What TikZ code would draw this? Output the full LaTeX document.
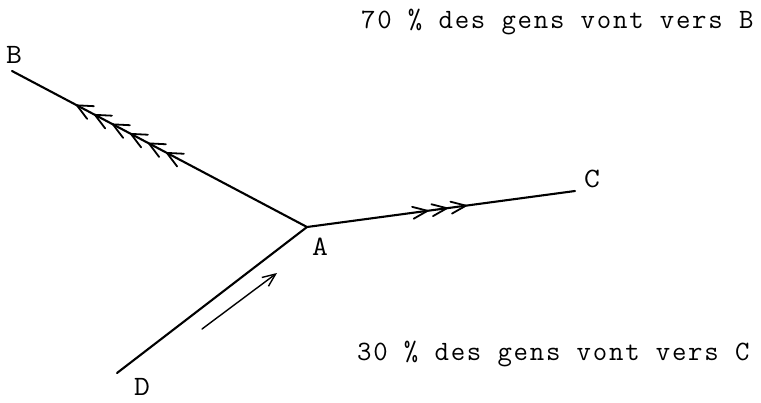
\documentclass[tikz,border=0pt]{standalone}
\usepackage{fontspec}
\newfontfamily\tw[LetterSpace=6.3]{Latin Modern Mono}
\newfontfamily\twl[FakeStretch=1.1]{Latin Modern Mono}
\usetikzlibrary{calc,arrows.meta}
\begin{document}
\begin{tikzpicture}[x=1pt,y=-1pt, line cap=round, line join=round,
  road/.style={line width=2.1pt},
  chev/.style={line width=1.8pt},
  flow/.style={line width=1.4pt, -{Straight Barb[length=13pt,width=11pt,line width=1.4pt]}},
  lbl/.style={font=\twl\fontsize{28}{32}\selectfont, inner sep=0pt, anchor=base west},
  txt/.style={font=\tw\fontsize{28}{32}\selectfont, inner sep=0pt, anchor=base west}]
\useasboundingbox (0,0) rectangle (761,402);
\coordinate (A) at (307,227);
\coordinate (B) at (12,71);
\coordinate (C) at (575,191);
\coordinate (D) at (117,373);
\coordinate (s) at (202,329);
\coordinate (e) at (277,273);
\draw[road] (B) -- (A) -- (C);
\draw[road] (D) -- (A);
\foreach \t in {0.22,0.281,0.342,0.403,0.464,0.525}{
  \coordinate (tip) at ($(B)!\t!(A)$);
  \draw[chev] ($(tip)!17pt!25:(A)$) -- (tip) -- ($(tip)!17pt!-25:(A)$);
}
\foreach \t in {0.45,0.522,0.593}{
  \coordinate (tip) at ($(A)!\t!(C)$);
  \draw[chev] ($(tip)!16pt!22:(A)$) -- (tip) -- ($(tip)!16pt!-22:(A)$);
}
\draw[flow] (s) -- (e);
\node[lbl] (lB) at (6,63) {B};
\node[lbl] (lC) at (584,187) {C};
\node[lbl] (lA) at (312,255) {A};
\node[lbl] (lD) at (134,395) {D};
\node[txt] (t1) at (361,28) {70 \% des gens vont vers B};
\node[txt] (t2) at (357,360) {30 \% des gens vont vers C};
\end{tikzpicture}
\end{document}
